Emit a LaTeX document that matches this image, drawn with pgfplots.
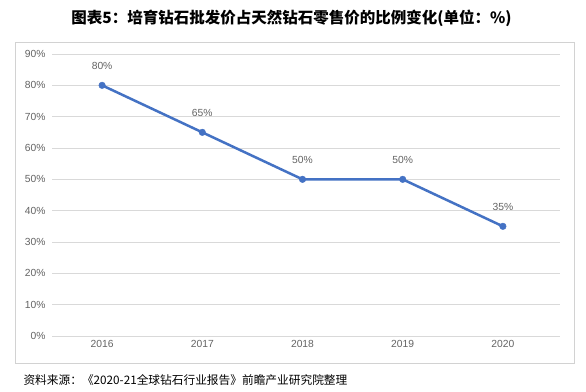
\documentclass[border=0pt]{standalone}
\usepackage{fontspec}
\setmainfont{Liberation Sans}
\newfontfamily\cjk{Noto Sans CJK SC}
\usepackage{pgfplots}
\pgfplotsset{compat=1.18}
\definecolor{lineblue}{RGB}{68,114,196}
\definecolor{ticklab}{RGB}{100,100,100}
\definecolor{gridc}{RGB}{217,217,217}
\definecolor{framec}{RGB}{210,210,210}
\begin{document}
\begin{tikzpicture}[x=1pt,y=1pt]
\path[use as bounding box, fill=white] (0,0) rectangle (586,391);
\draw[framec, line width=0.8pt] (15,28) rectangle (574,349);
\begin{axis}[
  at={(52pt,55pt)}, anchor=south west,
  scale only axis, width=508pt, height=282pt,
  xmin=-0.5, xmax=4.57, ymin=0, ymax=90,
  xtick={0,1,2,3,4},
  xticklabels={2016,2017,2018,2019,2020},
  ytick={0,10,20,30,40,50,60,70,80,90},
  yticklabel={\pgfmathprintnumber{\tick}\%},
  /pgf/number format/assume math mode=true,
  ymajorgrids, grid style={gridc, line width=0.8pt},
  axis line style={draw=none},
  tick style={draw=none},
  ticklabel style={font=\fontsize{10.3}{11}\selectfont, text=ticklab},
  yticklabel style={xshift=-3pt},
  xticklabel style={yshift=-1pt},
  clip=false,
  nodes near coords={\pgfmathprintnumber{\pgfplotspointmeta}\%},
  every node near coord/.append style={anchor=center, yshift=19pt, font=\fontsize{10.3}{11}\selectfont, text=ticklab},
]
\addplot[color=lineblue, line width=2.5pt, mark=*, mark size=3.3pt, mark options={solid, fill=lineblue, draw=lineblue, line width=0.4pt}]
  coordinates {(0,80) (1,65) (2,50) (3,50) (4,35)};
\end{axis}
\node at (291.5,373) {\fontsize{15.5}{17}\selectfont\cjk\bfseries 图表5：培育钻石批发价占天然钻石零售价的比例变化(单位：\%)};
\node[anchor=west] at (20,11) {\fontsize{11.7}{13}\selectfont\cjk 资料来源：《2020-21全球钻石行业报告》前瞻产业研究院整理};
\end{tikzpicture}
\end{document}
